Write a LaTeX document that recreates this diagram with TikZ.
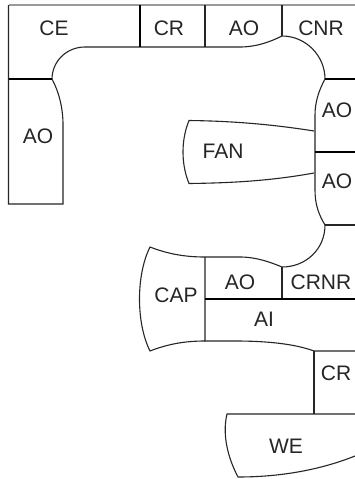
\documentclass[tikz,border=0pt]{standalone}
\usepackage{fontspec}
\setmainfont{Liberation Sans}
\definecolor{dkline}{HTML}{262626}
\definecolor{paleline}{HTML}{9A9A9A}

\begin{document}
\begin{tikzpicture}[
  x=1pt, y=-1pt,
  wall/.style={draw=dkline, line width=1.1pt},
  heavy/.style={draw=black, line width=1.5pt},
  pale/.style={draw=paleline, line width=1.1pt},
  lbl/.style={font=\fontsize{21}{25}\selectfont, text=dkline, inner sep=0pt},
]

% Background
\useasboundingbox (0,0) rectangle (355,479);
\fill[white] (0,0) rectangle (355,479);

% Top row and left leg
\draw[pale] (8.5,5) -- (355,5);
\draw[wall] (8.5,5) -- (8.5,204) -- (63,204) -- (63,125)
  .. controls (63,108) and (59,92) .. (52,79)
  .. controls (52,62) and (66,47) .. (85,47)
  -- (240,47)
  .. controls (256,47) and (270,42) .. (282,36)
  .. controls (306,36) and (325,56) .. (325,79);
\draw[heavy] (8.5,79) -- (52,79);
\draw[heavy] (140,5) -- (140,47);
\draw[wall] (205,5) -- (205,47);
\draw[wall] (282,5) -- (282,36);

% Right side
\draw[wall] (325,79)
  .. controls (319,90) and (315,102) .. (315,115)
  -- (315,190)
  .. controls (315,205) and (319,215) .. (325,225)
  .. controls (325,249) and (306,267) .. (282,267)
  .. controls (270,262) and (256,257) .. (240,257)
  -- (205,257);
\draw[heavy] (325,79) -- (355,79);
\draw[heavy] (315,152) -- (355,152);
\draw[wall] (325,225) -- (355,225);

% Fan
\draw[wall] (314,131)
  .. controls (270,124) and (230,121) .. (189,120.5)
  .. controls (181,140) and (181,164) .. (189,183.5)
  .. controls (230,183) and (270,181) .. (314,173);

% Cap and inner block
\draw[wall] (205,257)
  .. controls (185,257) and (168,254) .. (150,247)
  .. controls (136,275) and (136,323) .. (150,351)
  .. controls (168,344) and (185,341) .. (205,341);
\draw[wall] (205,257) -- (205,341) -- (235,341)
  .. controls (268,341) and (295,344) .. (314,351)
  -- (355,351);
\draw[wall] (282,267) -- (282,299);
\draw[heavy] (205,299) -- (355,299);

% Bottom
\draw[wall] (314,351) -- (314,414);
\draw[wall] (355,414) -- (227,414)
  .. controls (222,435) and (228,458) .. (238,477)
  .. controls (280,477) and (320,470) .. (355,456);

% Labels
\node[lbl] (ce) at (54,28) {CE};
\node[lbl] (crtop) at (169,28) {CR};
\node[lbl] (aotop) at (244,28) {AO};
\node[lbl] (cnr) at (321,28) {CNR};
\node[lbl] (aoleft) at (38,136) {AO};
\node[lbl] (aoupper) at (337,110) {AO};
\node[lbl] (fan) at (223,151) {FAN};
\node[lbl] (aolower) at (337,181) {AO};
\node[lbl] (cap) at (176,295) {CAP};
\node[lbl] (aomid) at (240,282) {AO};
\node[lbl] (crnr) at (321,282) {CRNR};
\node[lbl] (ai) at (264,319) {AI};
\node[lbl] (crlow) at (336,373) {CR};
\node[lbl] (we) at (286,446) {WE};

\end{tikzpicture}
\end{document}
